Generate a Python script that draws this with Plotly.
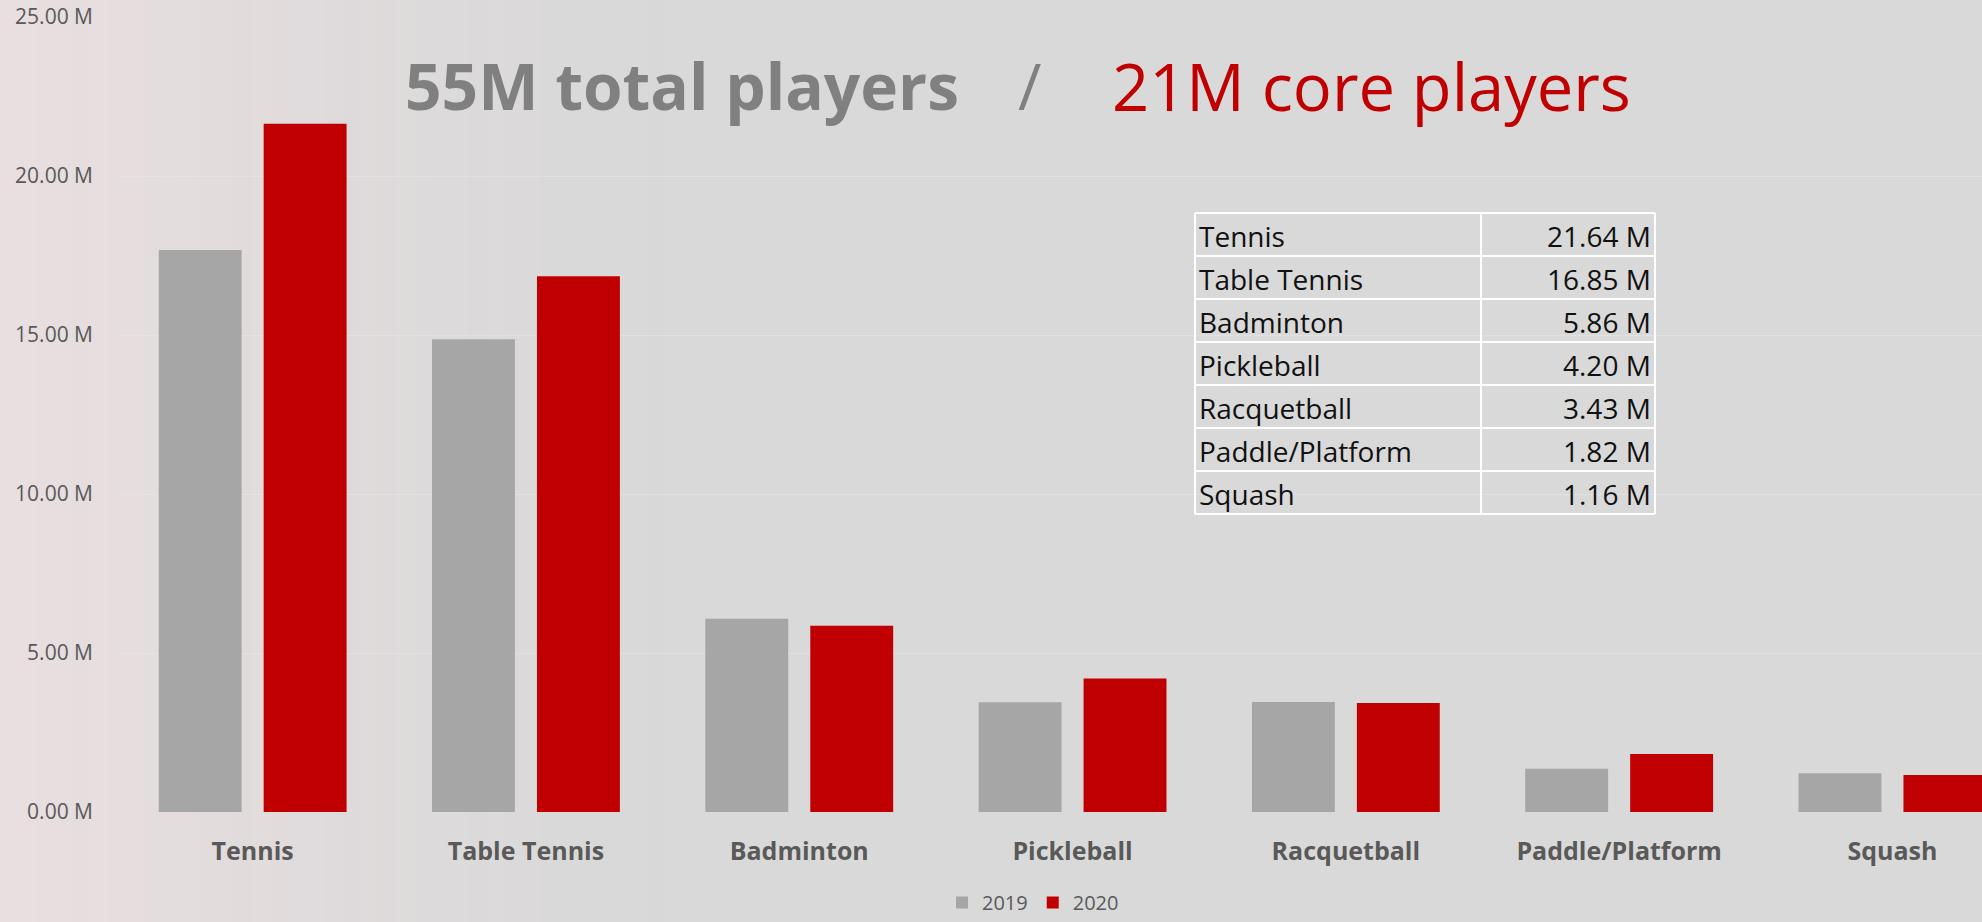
import plotly.graph_objects as go

# Participation by racquet sport (millions of players)
sports = ["Tennis", "Table Tennis", "Badminton", "Pickleball",
          "Racquetball", "Paddle/Platform", "Squash"]
players_2019 = [17.67, 14.87, 6.08, 3.45, 3.46, 1.36, 1.22]
players_2020 = [21.64, 16.85, 5.86, 4.20, 3.43, 1.82, 1.16]

# Core-player summary table
table_sports = ["Tennis", "Table Tennis", "Badminton", "Pickleball",
                "Racquetball", "Paddle/Platform", "Squash"]
table_values = ["21.64 M", "16.85 M", "5.86 M", "4.20 M", "3.43 M", "1.82 M", "1.16 M"]

title_total = "55M total players"
title_core = "21M core players"

FIG_W, FIG_H = 1982, 922
M_L, M_R, M_T, M_B = 116, 0, 17, 110
PLOT_W = FIG_W - M_L - M_R
PLOT_H = FIG_H - M_T - M_B
BOTTOM = FIG_H - M_B

FONT = "Open Sans"
BG = "#d9d9d9"
GREY = "#a6a6a6"
RED = "#c00000"
TEXT = "#595959"


def px_x(px):
    return (px - M_L) / PLOT_W


def px_y(py):
    return (BOTTOM - py) / PLOT_H


fig = go.Figure()
fig.add_trace(go.Bar(name="2019", x=sports, y=players_2019,
                     marker=dict(color=GREY, line=dict(width=0))))
fig.add_trace(go.Bar(name="2020", x=sports, y=players_2020,
                     marker=dict(color=RED, line=dict(width=0))))

shapes = []
# soft pink haze across the left side of the slide
n_strips = 40
haze_w = 720
for i in range(n_strips):
    x0 = i * haze_w / n_strips
    x1 = (i + 1) * haze_w / n_strips
    alpha = 0.6 * (1 - i / n_strips) ** 1.5
    shapes.append(dict(type="rect", xref="paper", yref="paper",
                       x0=px_x(x0), x1=px_x(x1), y0=px_y(FIG_H), y1=px_y(0),
                       fillcolor=f"rgba(244,226,229,{alpha:.3f})",
                       line=dict(width=0), layer="below"))

# summary table: white grid lines
t_left, t_mid, t_right = 1195, 1481, 1655
t_top, row_h = 213, 43
n_rows = len(table_sports)
t_bottom = t_top + n_rows * row_h
line_style = dict(color="white", width=2)
for r in range(n_rows + 1):
    yy = px_y(t_top + r * row_h)
    shapes.append(dict(type="line", xref="paper", yref="paper",
                       x0=px_x(t_left), x1=px_x(t_right), y0=yy, y1=yy,
                       line=line_style))
for xx in (t_left, t_mid, t_right):
    shapes.append(dict(type="line", xref="paper", yref="paper",
                       x0=px_x(xx), x1=px_x(xx), y0=px_y(t_top), y1=px_y(t_bottom),
                       line=line_style))

annotations = []
for r, (name, val) in enumerate(zip(table_sports, table_values)):
    yc = px_y(t_top + r * row_h + row_h / 2 + 1)
    annotations.append(dict(xref="paper", yref="paper", x=px_x(t_left + 2), y=yc,
                            text=name, showarrow=False, xanchor="left", yanchor="middle",
                            font=dict(family=FONT, size=28, color="#111111")))
    annotations.append(dict(xref="paper", yref="paper", x=px_x(t_right - 2), y=yc,
                            text=val, showarrow=False, xanchor="right", yanchor="middle",
                            font=dict(family=FONT, size=28, color="#111111")))

# headline
title_y = px_y(86)
annotations.append(dict(xref="paper", yref="paper", x=px_x(403), y=title_y,
                        text=f"<b>{title_total}</b>", showarrow=False,
                        xanchor="left", yanchor="middle",
                        font=dict(family=FONT, size=64, color="#808080")))
annotations.append(dict(xref="paper", yref="paper", x=px_x(1029), y=title_y,
                        text="/", showarrow=False,
                        xanchor="center", yanchor="middle",
                        font=dict(family=FONT, size=64, color="#808080")))
annotations.append(dict(xref="paper", yref="paper", x=px_x(1110), y=title_y,
                        text=title_core, showarrow=False,
                        xanchor="left", yanchor="middle",
                        font=dict(family=FONT, size=65, color=RED)))

fig.update_layout(
    width=FIG_W, height=FIG_H,
    margin=dict(l=M_L, r=M_R, t=M_T, b=M_B, pad=0, autoexpand=False),
    paper_bgcolor=BG,
    plot_bgcolor="rgba(0,0,0,0)",
    barmode="group",
    bargap=0.232,
    bargroupgap=0.21,
    font=dict(family=FONT, color=TEXT),
    shapes=shapes,
    annotations=annotations,
    legend=dict(orientation="h", xanchor="center", yanchor="bottom",
                xref="container", yref="container",
                x=1033 / FIG_W, y=0.0,
                font=dict(family=FONT, size=20, color=TEXT),
                bgcolor="rgba(0,0,0,0)", itemsizing="constant",
                traceorder="normal"),
    showlegend=True,
)
fig.update_xaxes(
    range=[-0.5, -0.5 + PLOT_W / 273.3],
    showgrid=False, zeroline=False, showline=False,
    tickfont=dict(family=FONT, size=25, color=TEXT, weight="bold"),
    ticklabelstandoff=22,
)
fig.update_yaxes(
    range=[0, 25], dtick=5, tickformat=".2f", ticksuffix=" M",
    showgrid=True, gridcolor="rgba(232,232,232,0.55)", gridwidth=1,
    zeroline=False, showline=False,
    tickfont=dict(family=FONT, size=21, color=TEXT),
    ticklabelstandoff=22,
)

fig.write_html("out.html")
